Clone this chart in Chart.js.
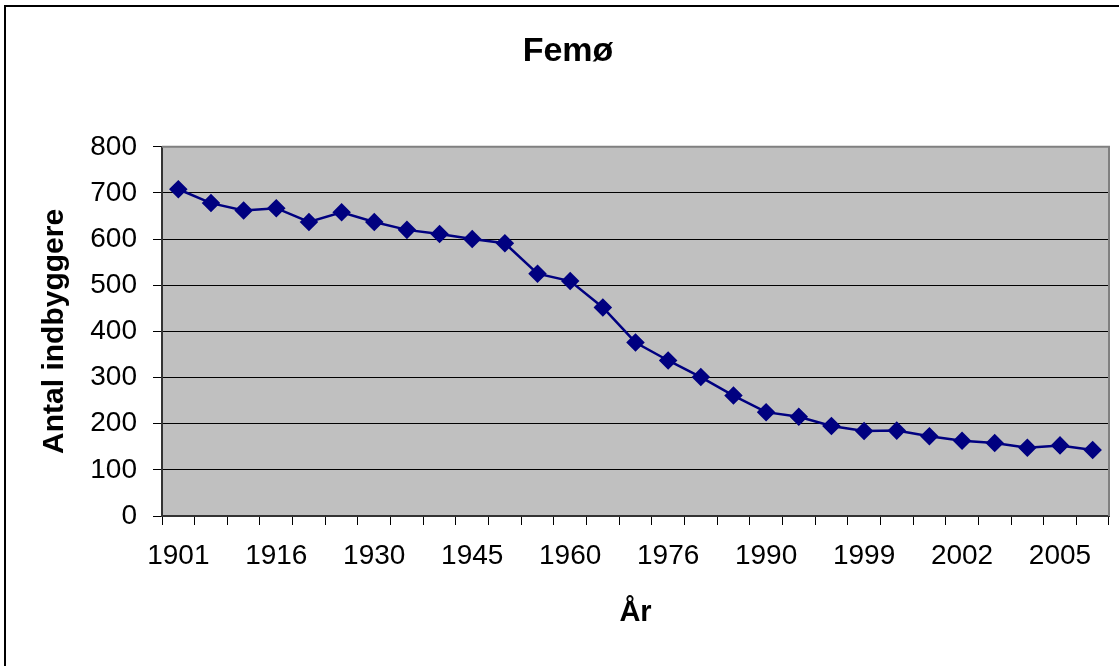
<!DOCTYPE html>
<html>
<head>
<meta charset="utf-8">
<script src="https://cdn.jsdelivr.net/npm/chart.js@4/dist/chart.umd.min.js"></script>
<style>
  html, body { margin: 0; padding: 0; background: #fff; }
  #wrap { width: 1119px; height: 666px; }
</style>
</head>
<body>
<div id="wrap"><canvas id="chart"></canvas></div>
<script>
// data
const years = ['1901', '1906', '1911', '1916', '1921', '1925', '1930', '1935', '1940', '1945',
               '1950', '1955', '1960', '1965', '1970', '1976', '1981', '1986', '1990', '1993',
               '1996', '1999', '2000', '2001', '2002', '2003', '2004', '2005', '2006'];
const population = [708, 678, 662, 667, 637, 658, 637, 620, 611, 600,
                    591, 525, 509, 452, 376, 337, 301, 261, 225, 215,
                    195, 184, 185, 173, 163, 158, 148, 153, 143];
const yTicks = [0, 100, 200, 300, 400, 500, 600, 700, 800];

const FONT = "'Liberation Sans', Arial, sans-serif";

// grey plot area + outer frame
const frame = {
    id: 'frame',
    beforeDraw(chart) {
        const { ctx, chartArea: a } = chart;
        ctx.save();
        ctx.fillStyle = '#C0C0C0';
        ctx.fillRect(a.left, a.top, a.right - a.left, a.bottom - a.top);
        ctx.strokeStyle = '#000';
        ctx.lineWidth = 2;
        ctx.strokeRect(5, 6, 1200, 800);
        ctx.restore();
    },
    beforeDatasetsDraw(chart) {
        const { ctx, chartArea: a } = chart;
        ctx.save();
        ctx.strokeStyle = '#808080';
        ctx.lineWidth = 2;
        ctx.beginPath();
        ctx.moveTo(a.left, a.top);
        ctx.lineTo(a.right, a.top);
        ctx.lineTo(a.right, a.bottom);
        ctx.stroke();
        ctx.restore();
    }
};

new Chart(document.getElementById('chart'), {
    type: 'line',
    data: {
        labels: years,
        datasets: [{
            label: 'Femø',
            data: population,
            borderColor: '#000080',
            backgroundColor: '#000080',
            borderWidth: 2.5,
            pointStyle: 'rectRot',
            pointRadius: 7.5,
            pointHoverRadius: 7.5,
            tension: 0
        }]
    },
    options: {
        responsive: true,
        maintainAspectRatio: false,
        animation: false,
        layout: { padding: { left: 27, right: 10, top: 0, bottom: 0 } },
        plugins: {
            legend: { display: false },
            tooltip: { enabled: false },
            title: {
                display: true,
                text: 'Femø',
                color: '#000',
                font: { family: FONT, size: 34, weight: 'bold' },
                padding: { top: 31, bottom: 75 }
            }
        },
        scales: {
            x: {
                offset: true,
                grid: {
                    offset: true,
                    drawOnChartArea: false,
                    drawTicks: true,
                    tickLength: 9,
                    color: '#000',
                    lineWidth: 1
                },
                border: { color: '#333', width: 2 },
                ticks: {
                    autoSkip: false,
                    maxRotation: 0,
                    color: '#000',
                    padding: 14,
                    font: { family: FONT, size: 28 },
                    callback: function(v, i) { return i % 3 === 0 ? years[i] : ''; }
                },
                title: {
                    display: true,
                    text: 'År',
                    color: '#000',
                    font: { family: FONT, size: 29, weight: 'bold' },
                    padding: { top: 0, bottom: 36 }
                },
                afterFit(scale) { scale.height = 150; }
            },
            y: {
                min: 0,
                max: 800,
                afterBuildTicks(scale) { scale.ticks = yTicks.map(v => ({ value: v })); },
                grid: {
                    color: '#000',
                    lineWidth: 1,
                    drawTicks: true,
                    tickLength: 9
                },
                border: { color: '#333', width: 2 },
                ticks: {
                    color: '#000',
                    padding: 16,
                    font: { family: FONT, size: 28 }
                },
                title: {
                    display: true,
                    text: 'Antal indbyggere',
                    color: '#000',
                    font: { family: FONT, size: 30, weight: 'bold' },
                    padding: { top: 10, bottom: 0 }
                },
                afterFit(scale) { scale.width = 135; }
            }
        }
    },
    plugins: [frame]
});
</script>
</body>
</html>
